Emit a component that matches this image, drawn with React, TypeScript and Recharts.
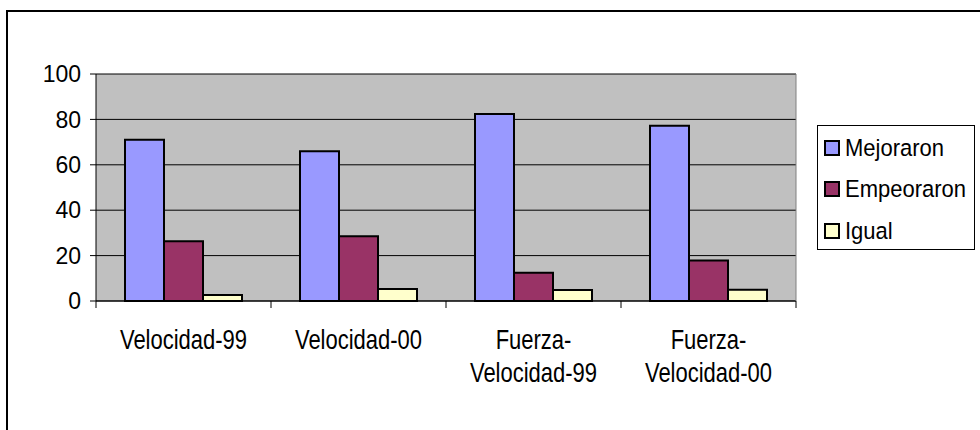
import { Bar, BarChart, CartesianGrid, XAxis, YAxis } from "recharts";

const categories = ["Velocidad-99", "Velocidad-00", "Fuerza-Velocidad-99", "Fuerza-Velocidad-00"];
const mejoraron = [71, 66, 82.4, 77.2];
const empeoraron = [26.3, 28.5, 12.4, 17.8];
const igual = [2.6, 5.3, 4.8, 5];
const yTicks = [0, 20, 40, 60, 80, 100];

const series = [
  { key: "Mejoraron", values: mejoraron, color: "#9999ff" },
  { key: "Empeoraron", values: empeoraron, color: "#993366" },
  { key: "Igual", values: igual, color: "#ffffcc" },
];

const data = categories.map((name, i) => {
  const row: Record<string, string | number> = { name };
  series.forEach((s) => (row[s.key] = s.values[i]));
  return row;
});

const FONT = '"Liberation Sans", Arial, Helvetica, sans-serif';

// long names wrap after the first hyphen, like the original
function splitLabel(label: string) {
  if (label.length <= 12) return [label];
  const cut = label.indexOf("-") + 1;
  return [label.slice(0, cut), label.slice(cut)];
}

// category label plus tick marks on the band edges (Excel style)
function CategoryTick(props: any) {
  const { x, y, payload, index, visibleTicksCount, width } = props;
  let half = typeof payload.offset === "number" ? payload.offset : 0;
  if (!(half > 0) && typeof width === "number" && visibleTicksCount) half = width / visibleTicksCount / 2;
  const lines = splitLabel(String(payload.value));
  const sy = 1.28;
  return (
    <g>
      <line x1={x - half} x2={x - half} y1={y} y2={y + 7} stroke="#000" />
      {index === visibleTicksCount - 1 && (
        <line x1={x + half} x2={x + half} y1={y} y2={y + 7} stroke="#000" />
      )}
      <g transform={`translate(${x},${y}) scale(1,${sy})`}>
        {lines.map((t, i) => (
          <text
            key={i}
            x={0}
            y={(48 + i * 33) / sy}
            textAnchor="middle"
            fontSize={22}
            fontFamily={FONT}
            fill="#000"
          >
            {t}
          </text>
        ))}
      </g>
    </g>
  );
}

function LegendBox() {
  return (
    <div
      style={{
        position: "absolute",
        left: 817,
        top: 125,
        width: 156,
        height: 122,
        border: "1px solid #000",
        background: "#fff",
        paddingTop: 1,
        fontFamily: FONT,
      }}
    >
      {series.map((s) => (
        <div key={s.key} style={{ height: 41.5, display: "flex", alignItems: "center" }}>
          <span
            style={{
              display: "inline-block",
              width: 12,
              height: 12,
              marginLeft: 6,
              marginRight: 5,
              border: "2px solid #000",
              background: s.color,
            }}
          />
          <span style={{ fontSize: 22, display: "inline-block", transform: "scaleY(1.08)", color: "#000" }}>
            {s.key}
          </span>
        </div>
      ))}
    </div>
  );
}

export default function App() {
  return (
    <div
      style={{
        position: "absolute",
        left: 0,
        top: 0,
        width: 980,
        height: 430,
        overflow: "hidden",
        background: "#fff",
      }}
    >
      <div
        style={{
          position: "absolute",
          left: 6,
          top: 10,
          width: 1000,
          height: 500,
          border: "2px solid #000",
        }}
      />
      <div style={{ position: "absolute", left: 0, top: 0 }}>
        <BarChart
          width={980}
          height={430}
          data={data}
          margin={{ top: 74, right: 183, bottom: 29, left: 36 }}
          barCategoryGap={29}
          barGap={0}
        >
          <CartesianGrid vertical={false} stroke="#000" fill="#c0c0c0" fillOpacity={1} />
          <XAxis
            dataKey="name"
            height={100}
            interval={0}
            tickLine={false}
            tickSize={0}
            tickMargin={0}
            axisLine={{ stroke: "#000" }}
            tick={<CategoryTick />}
          />
          <YAxis
            domain={[0, 100]}
            ticks={yTicks}
            interval={0}
            width={60}
            tickSize={6}
            tickMargin={9}
            axisLine={{ stroke: "#000" }}
            tickLine={{ stroke: "#000" }}
            tick={{ fill: "#000", fontSize: 23, fontFamily: FONT }}
          />
          <YAxis
            yAxisId="r"
            orientation="right"
            domain={[0, 100]}
            width={1}
            tick={false}
            tickLine={false}
            axisLine={{ stroke: "#808080" }}
          />
          {series.map((s) => (
            <Bar
              key={s.key}
              dataKey={s.key}
              fill={s.color}
              stroke="#000"
              strokeWidth={2}
              isAnimationActive={false}
            />
          ))}
        </BarChart>
      </div>
      <LegendBox />
    </div>
  );
}
